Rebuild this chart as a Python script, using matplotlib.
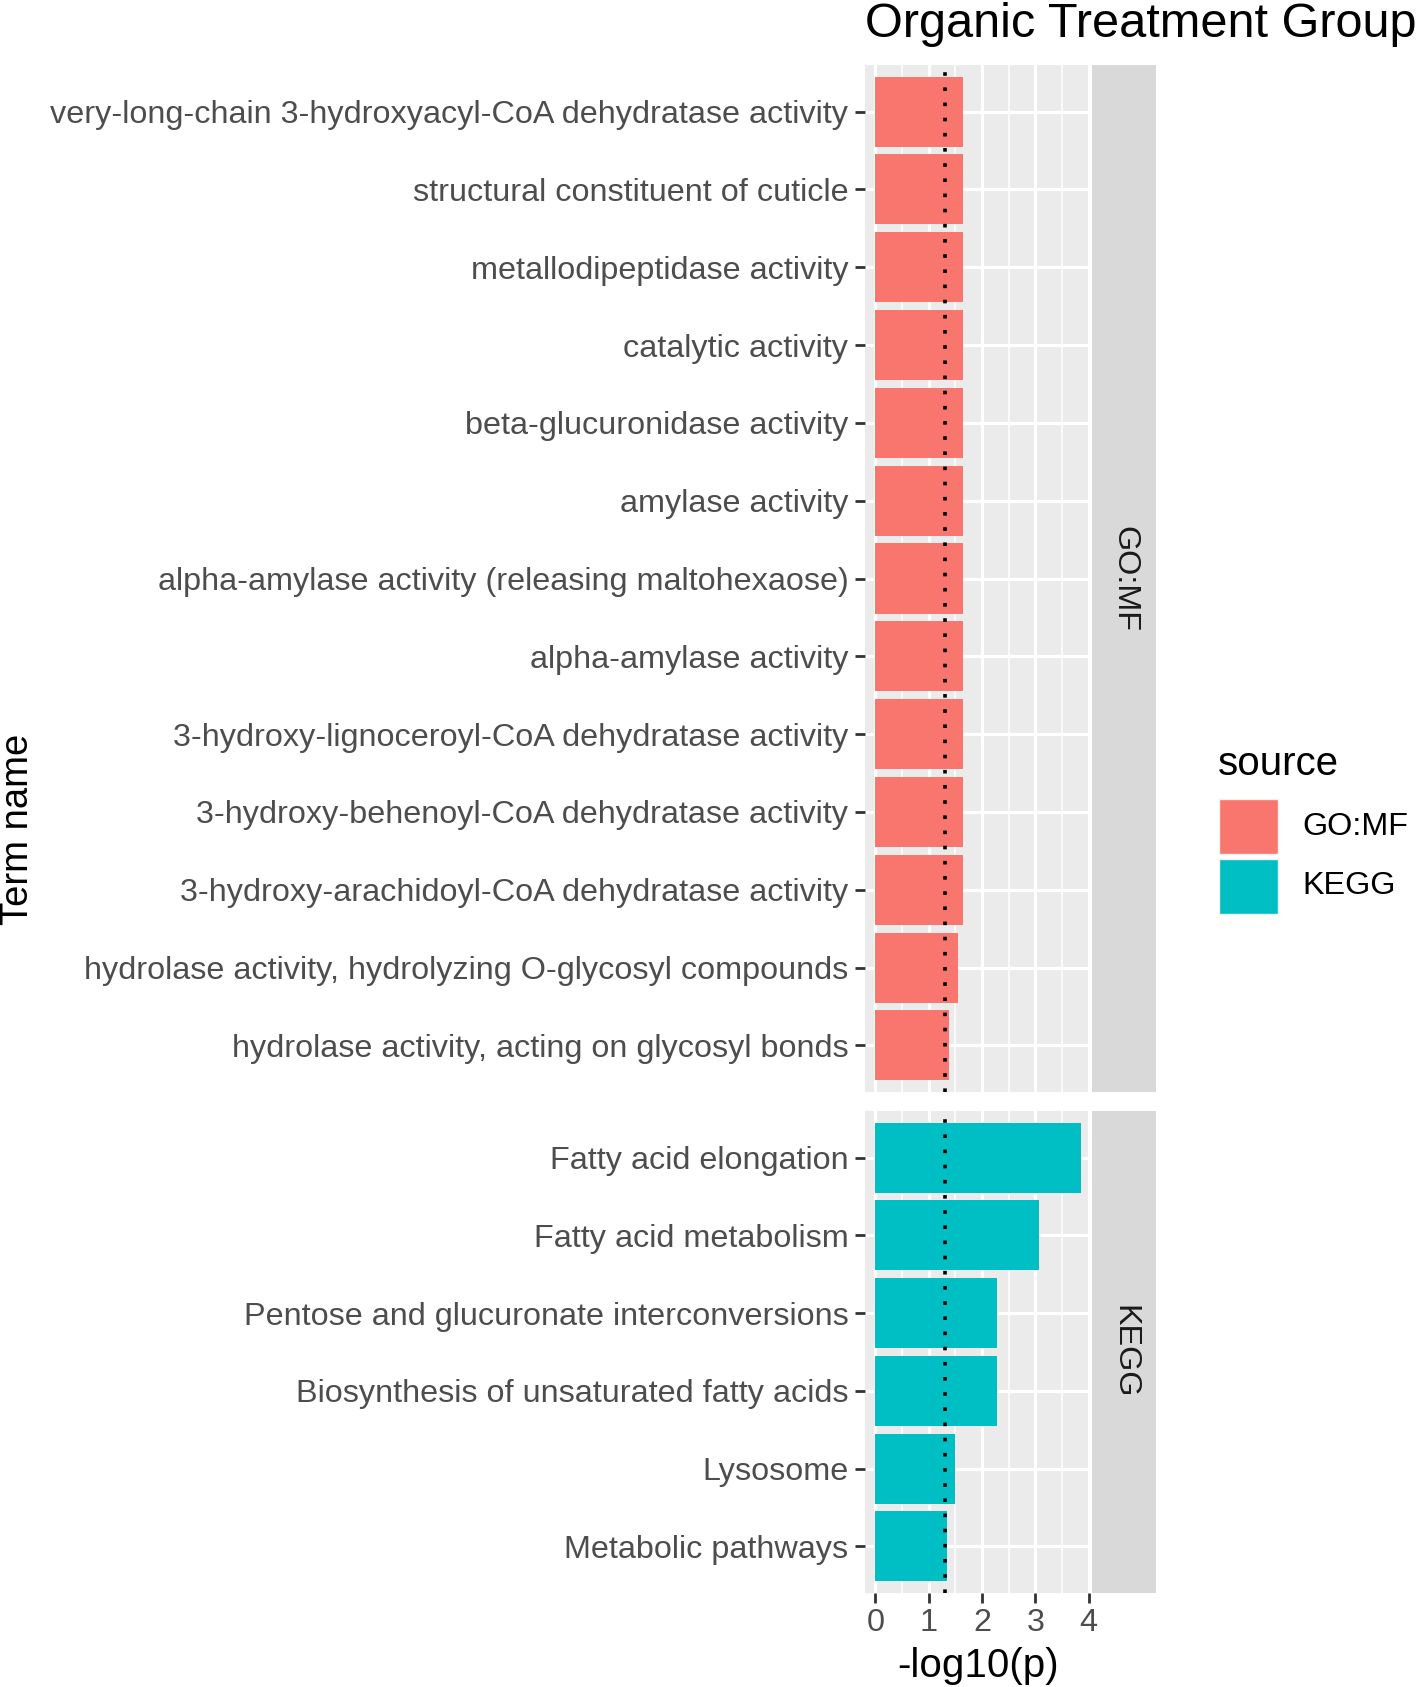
import matplotlib
matplotlib.use("Agg")
import matplotlib.pyplot as plt
from matplotlib.patches import Rectangle
import numpy as np

plt.rcParams['font.family'] = ['Liberation Sans', 'DejaVu Sans']

# ---- data ----
go_terms = [
    "very-long-chain 3-hydroxyacyl-CoA dehydratase activity",
    "structural constituent of cuticle",
    "metallodipeptidase activity",
    "catalytic activity",
    "beta-glucuronidase activity",
    "amylase activity",
    "alpha-amylase activity (releasing maltohexaose)",
    "alpha-amylase activity",
    "3-hydroxy-lignoceroyl-CoA dehydratase activity",
    "3-hydroxy-behenoyl-CoA dehydratase activity",
    "3-hydroxy-arachidoyl-CoA dehydratase activity",
    "hydrolase activity, hydrolyzing O-glycosyl compounds",
    "hydrolase activity, acting on glycosyl bonds",
]
go_values = [1.64, 1.64, 1.64, 1.64, 1.64, 1.64, 1.64, 1.64, 1.64, 1.64, 1.64, 1.55, 1.39]

kegg_terms = [
    "Fatty acid elongation",
    "Fatty acid metabolism",
    "Pentose and glucuronate interconversions",
    "Biosynthesis of unsaturated fatty acids",
    "Lysosome",
    "Metabolic pathways",
]
kegg_values = [3.85, 3.07, 2.28, 2.28, 1.49, 1.34]

sources = ["GO:MF", "KEGG"]
colors = {"GO:MF": "#F8766D", "KEGG": "#00BFC4"}
threshold = -np.log10(0.05)
x_ticks = [0, 1, 2, 3, 4]

title = "Organic Treatment Group"
x_label = "-log10(p)"
y_label = "Term name"
legend_title = "source"

# ---- layout (pixels) ----
W, H = 1416, 1687
DPI = 100
fig = plt.figure(figsize=(W / DPI, H / DPI), dpi=DPI)


def fx(px):
    return px / W


def fy(py):
    return 1 - py / H


pan_l, pan_r = 865, 1091
strip_l, strip_r = 1092, 1156
panels = [(65, 1092), (1111, 1593)]

all_vals = go_values + kegg_values
vmax = max(all_vals)
xlim = (-0.05 * vmax, vmax * 1.05)

AX_TEXT = 23.3
BASE = 29
GRID_MAJ = 2.3
GRID_MIN = 1.15

data_sets = [(go_terms, go_values, "GO:MF"), (kegg_terms, kegg_values, "KEGG")]
axes = []
for i, ((top, bot), (terms, vals, src)) in enumerate(zip(panels, data_sets)):
    ax = fig.add_axes([fx(pan_l), fy(bot), fx(pan_r - pan_l), (bot - top) / H])
    axes.append(ax)
    ax.set_facecolor("#EBEBEB")
    n = len(terms)
    ypos = np.arange(n)
    ax.barh(ypos, vals, height=0.9, color=colors[src], edgecolor="none", zorder=3)
    ax.axvline(threshold, color="black", linewidth=2.6, linestyle=(0, (1, 3.2)),
               dash_capstyle="butt", zorder=4)
    ax.set_xlim(*xlim)
    ax.set_ylim(n - 1 + 0.6, -0.6)
    ax.set_yticks(ypos)
    ax.set_yticklabels(terms, fontsize=AX_TEXT, color="#4D4D4D")
    ax.set_xticks(x_ticks)
    ax.set_xticks(np.array(x_ticks[:-1]) + 0.5, minor=True)
    ax.grid(which="major", color="white", linewidth=GRID_MAJ, zorder=1)
    ax.grid(which="minor", axis="x", color="white", linewidth=GRID_MIN, zorder=1)
    ax.set_axisbelow(True)
    ax.tick_params(axis="y", which="major", length=7, width=2.0, color="#333333", pad=5)
    ax.tick_params(axis="x", which="major", length=7, width=2.0, color="#333333", pad=4,
                   labelsize=AX_TEXT, labelcolor="#4D4D4D")
    ax.tick_params(axis="x", which="minor", length=0)
    for s in ax.spines.values():
        s.set_visible(False)
    if i == 0:
        ax.tick_params(axis="x", which="major", length=0, labelbottom=False)

    # strip
    sax = fig.add_axes([fx(strip_l), fy(bot), fx(strip_r - strip_l), (bot - top) / H])
    sax.set_facecolor("#D9D9D9")
    sax.set_xticks([])
    sax.set_yticks([])
    for s in sax.spines.values():
        s.set_visible(False)
    sax.text(0.5, 0.5, src, rotation=270, ha="center", va="center",
             fontsize=AX_TEXT, color="#1A1A1A", transform=sax.transAxes)

# axis labels
fig.text(fx((pan_l + pan_r) / 2), fy(1666), x_label, ha="center", va="center",
         fontsize=BASE, color="black")
fig.text(fx(18), fy(829), y_label, ha="center", va="center", rotation=90,
         fontsize=27.5, color="black")

# title
fig.text(fx(865), fy(37), title, ha="left", va="baseline", fontsize=35, color="black")

# legend
fig.text(fx(1218), fy(775), legend_title, ha="left", va="baseline", fontsize=BASE, color="black")
key_tops = [799, 859]
for src, kt in zip(sources, key_tops):
    fig.patches.append(Rectangle((fx(1219), fy(kt + 55)), fx(59), 55 / H,
                                 transform=fig.transFigure, facecolor=colors[src],
                                 edgecolor="#F2F2F2", linewidth=1.0))
    fig.text(fx(1302), fy(kt + 27.5), src, ha="left", va="center", fontsize=AX_TEXT, color="black")

fig.savefig("out.png", dpi=DPI)
